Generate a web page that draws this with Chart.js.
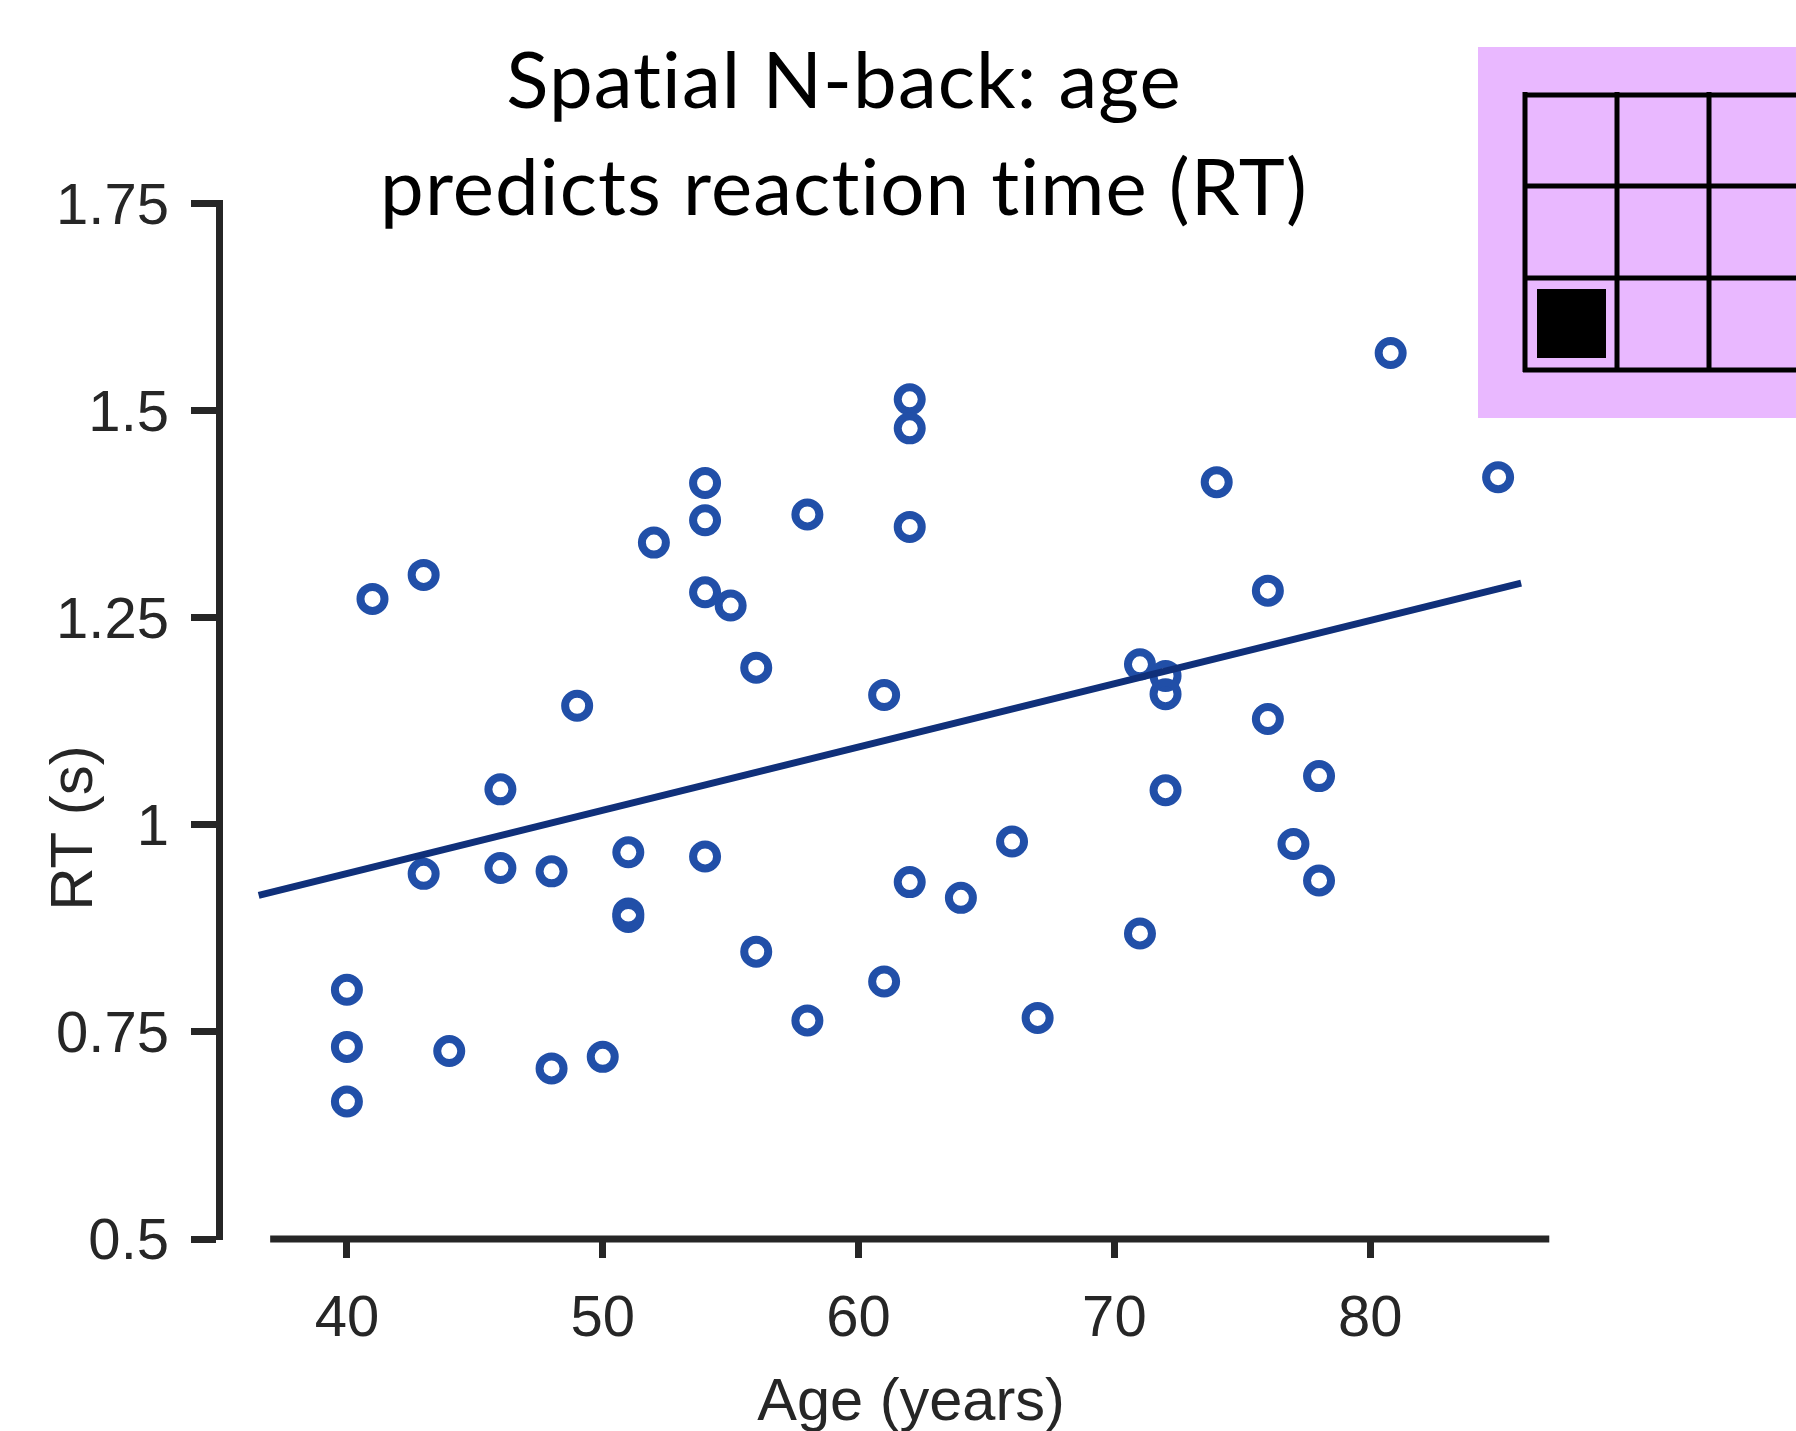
<!DOCTYPE html>
<html>
<head>
<meta charset="utf-8">
<title>Spatial N-back</title>
<script src="https://cdn.jsdelivr.net/npm/chart.js@4"></script>
<style>
  html, body { margin: 0; padding: 0; background: #fff; overflow: hidden; }
  #wrap { position: relative; width: 1796px; height: 1431px; }
</style>
</head>
<body>
<div id="wrap"><canvas id="nback"></canvas></div>
<script>
const ages = [40, 40, 40, 41, 43, 43, 44, 46, 46, 48, 48, 49, 50, 51, 51, 51, 52, 54, 54, 54, 54, 55, 56, 56,
              58, 58, 61, 61, 62, 62, 62, 62, 64, 66, 67, 71, 71, 72, 72, 72, 74, 76, 76, 77, 78, 78, 80.8, 85];
const rts = [0.801, 0.732, 0.666, 1.273, 1.302, 0.941, 0.727, 1.043, 0.948, 0.944, 0.706, 1.144, 0.720, 0.967, 0.893, 0.889,
             1.341, 1.413, 1.368, 1.281, 0.962, 1.265, 1.190, 0.847, 1.375, 0.764, 1.157, 0.811, 1.514, 1.479, 1.360, 0.931,
             0.912, 0.980, 0.767, 1.194, 0.869, 1.180, 1.158, 1.042, 1.414, 1.283, 1.128, 0.977, 1.059, 0.933, 1.570, 1.420];
const fitAges = [36.55, 85.9];
const fitRts = [0.915, 1.292];
const xTicks = [40, 50, 60, 70, 80];
const yTicks = [0.5, 0.75, 1, 1.25, 1.5, 1.75];
const xAxisRange = [37, 87];

const ink = '#262626';
const sans = '"Liberation Sans", Arial, sans-serif';
const tickFont = { family: sans, size: 58 };

// the x axis line stops short of the y axis, so it is drawn here from the scale
const xAxisLine = {
    id: 'xAxisLine',
    afterDatasetsDraw(chart) {
        const ctx = chart.ctx;
        const x = chart.scales.x;
        const y = chart.scales.y.getPixelForValue(0.5);
        ctx.save();
        ctx.strokeStyle = ink;
        ctx.lineWidth = 7;
        ctx.beginPath();
        ctx.moveTo(x.getPixelForValue(xAxisRange[0]), y);
        ctx.lineTo(x.getPixelForValue(xAxisRange[1]), y);
        ctx.stroke();
        ctx.restore();
    }
};

// y title is not centred on the axis in the original, chart.js can't do that
const yTitle = {
    id: 'yTitle',
    afterDraw(chart) {
        const ctx = chart.ctx;
        ctx.save();
        ctx.translate(75, 828);
        ctx.rotate(-Math.PI / 2);
        ctx.fillStyle = ink;
        ctx.font = '60px ' + sans;
        ctx.textAlign = 'center';
        ctx.textBaseline = 'middle';
        ctx.fillText('RT (s)', 0, 0);
        ctx.restore();
    }
};

// lilac n-back grid in the corner, runs off the right edge
const gridPanel = {
    id: 'gridPanel',
    afterDraw(chart) {
        const ctx = chart.ctx;
        ctx.save();
        ctx.fillStyle = '#e9b8ff';
        ctx.fillRect(1478, 47, 318, 371);
        ctx.strokeStyle = '#000';
        ctx.lineWidth = 5;
        ctx.beginPath();
        [1525, 1617, 1709].forEach(function (px) {
            ctx.moveTo(px, 92);
            ctx.lineTo(px, 372);
        });
        [95, 186, 278, 370].forEach(function (py) {
            ctx.moveTo(1523, py);
            ctx.lineTo(1796, py);
        });
        ctx.stroke();
        ctx.fillStyle = '#000';
        ctx.fillRect(1537, 289, 69, 69);
        ctx.restore();
    }
};

// the title sits left of the canvas centre; spacing also switches off Lato's ti ligature
const moveTitle = {
    id: 'moveTitle',
    afterLayout(chart) {
        const block = chart.titleBlock;
        block.right = 1688;
        block.draw = function () {
            chart.ctx.letterSpacing = '1.1px';
            Object.getPrototypeOf(block).draw.call(block);
            chart.ctx.letterSpacing = '0px';
        };
    }
};

new Chart(document.getElementById('nback'), {
    type: 'scatter',
    data: {
        datasets: [{
            label: 'Fit',
            type: 'line',
            data: fitAges.map(function (a, i) { return { x: a, y: fitRts[i] }; }),
            borderColor: '#10307a',
            borderWidth: 7,
            pointRadius: 0,
            order: 1
        }, {
            label: 'Participants',
            data: ages.map(function (a, i) { return { x: a, y: rts[i] }; }),
            borderColor: '#214fa8',
            backgroundColor: 'rgba(0,0,0,0)',
            pointBorderWidth: 8,
            pointRadius: 12,
            order: 2
        }]
    },
    options: {
        responsive: true,
        maintainAspectRatio: false,
        animation: false,
        layout: { padding: { left: 0, right: 193, top: 0, bottom: 0 } },
        plugins: {
            legend: { display: false },
            tooltip: { enabled: false },
            title: {
                display: true,
                text: ['Spatial N-back: age', 'predicts reaction time (RT)'],
                color: '#000',
                font: { family: 'Lato, sans-serif', size: 78, weight: 'normal', lineHeight: 1.365 },
                padding: { top: 30, bottom: -39 }
            }
        },
        scales: {
            x: {
                type: 'linear',
                min: 35,
                max: 89.1,
                afterBuildTicks(scale) { scale.ticks = xTicks.map(function (v) { return { value: v }; }); },
                afterFit(scale) { scale.height = 192; },
                border: { display: false },
                grid: { drawOnChartArea: false, tickLength: 19, tickWidth: 7, tickColor: ink },
                ticks: { color: ink, font: tickFont, padding: 27, maxRotation: 0, autoSkip: false },
                title: { display: true, text: 'Age (years)', color: ink, font: { family: sans, size: 59.5, lineHeight: 1 }, padding: { top: 0, bottom: -2 } }
            },
            y: {
                min: 0.5,
                max: 1.75,
                afterBuildTicks(scale) { scale.ticks = yTicks.map(function (v) { return { value: v }; }); },
                afterFit(scale) { scale.width = 219; },
                border: { color: ink, width: 7 },
                grid: { drawOnChartArea: false, tickLength: 28, tickWidth: 7, tickColor: ink },
                ticks: {
                    color: ink,
                    font: tickFont,
                    padding: 22,
                    labelOffset: 4,
                    autoSkip: false,
                    callback(v) { return String(v); }
                }
            }
        }
    },
    plugins: [xAxisLine, yTitle, gridPanel, moveTitle]
});

document.getElementById('nback').parentNode.style.height = '1431px';
</script>
</body>
</html>
